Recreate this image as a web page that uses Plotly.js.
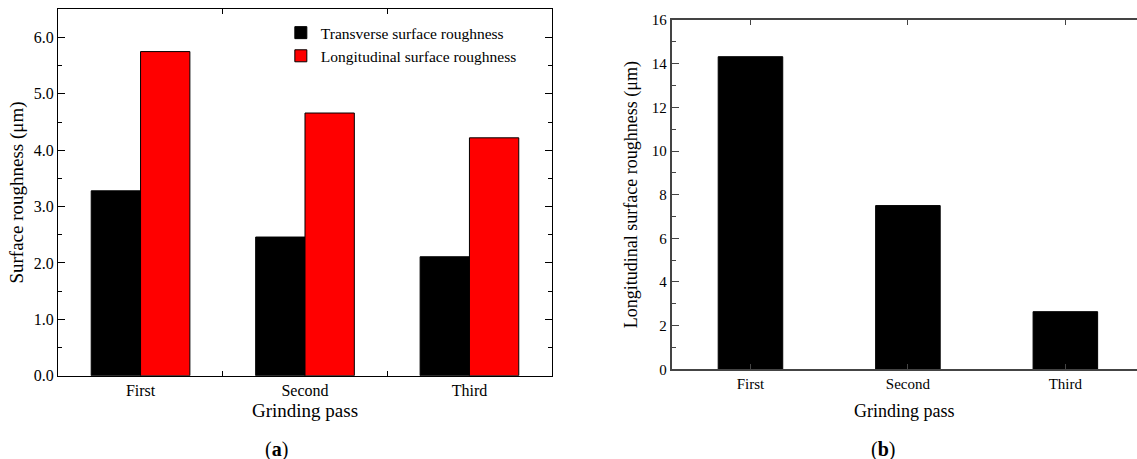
<!DOCTYPE html>
<html>
<head>
<meta charset="utf-8">
<script src="https://cdn.plot.ly/plotly-3.0.1.min.js"></script>
<style>html,body{margin:0;padding:0;background:#fff;}#chart{width:1137px;height:459px;}</style>
</head>
<body>
<div id="chart"></div>
<script>
// ---- data ----
const categories = ['First', 'Second', 'Third'];
const transverseA = [3.28, 2.46, 2.11];
const longitudinalA = [5.75, 4.66, 4.22];
const longitudinalB = [14.32, 7.50, 2.64];
const seriesNames = ['Transverse surface roughness', 'Longitudinal surface roughness'];

const FONT = '"Liberation Serif", serif';

const traces = [
  {type: 'bar', x: categories, y: transverseA, name: seriesNames[0], xaxis: 'x', yaxis: 'y',
   marker: {color: '#000000', line: {color: '#000000', width: 1}}},
  {type: 'bar', x: categories, y: longitudinalA, name: seriesNames[1], xaxis: 'x', yaxis: 'y',
   marker: {color: '#ff0000', line: {color: '#000000', width: 1}}},
  {type: 'bar', x: categories, y: longitudinalB, name: 'Longitudinal', xaxis: 'x2', yaxis: 'y2',
   width: 0.41, showlegend: false, marker: {color: '#000000', line: {color: '#000000', width: 1}}}
];

const layout = {
  width: 1137, height: 459,
  margin: {l: 0, r: 0, t: 0, b: 0},
  paper_bgcolor: '#ffffff', plot_bgcolor: '#ffffff',
  font: {family: FONT, color: '#000000', size: 15},
  barmode: 'group', bargap: 0.4, bargroupgap: 0,
  showlegend: true,
  legend: {x: 0.247, y: 0.965, xanchor: 'left', yanchor: 'top', bgcolor: 'rgba(0,0,0,0)',
           font: {family: FONT, size: 15.5}, itemwidth: 30, tracegroupgap: 0},
  xaxis: {
    domain: [0.0513, 0.4852], anchor: 'y', type: 'category', range: [-0.5, 2.5],
    showline: true, linecolor: '#000', linewidth: 1.5, mirror: 'ticks',
    ticks: 'inside', tickson: 'boundaries', ticklen: 5, tickcolor: '#000',
    showgrid: false, zeroline: false, tickfont: {family: FONT, size: 16},
    title: {text: 'Grinding pass', font: {family: FONT, size: 19}, standoff: 5}
  },
  yaxis: {
    domain: [0.1815, 0.9797], anchor: 'x', range: [0, 6.5], dtick: 1, tick0: 0, tickformat: '.1f',
    showline: true, linecolor: '#000', linewidth: 1.5, mirror: 'ticks',
    ticks: 'inside', ticklen: 7, tickcolor: '#000',
    minor: {dtick: 0.5, ticks: 'inside', ticklen: 4, tickcolor: '#000', showgrid: false},
    showgrid: false, zeroline: false, tickfont: {family: FONT, size: 16},
    title: {text: 'Surface roughness (μm)', font: {family: FONT, size: 19}, standoff: 5}
  },
  xaxis2: {
    domain: [0.5908, 1], anchor: 'y2', type: 'category', range: [-0.5, 2.455],
    showline: true, linecolor: '#444', linewidth: 2, mirror: 'ticks',
    ticks: 'inside', ticklen: 5, tickcolor: '#444',
    showgrid: false, zeroline: false, tickfont: {family: FONT, size: 15},
    title: {text: 'Grinding pass', font: {family: FONT, size: 18}, standoff: 13}
  },
  yaxis2: {
    domain: [0.1954, 0.9564], anchor: 'x2', range: [0, 16], dtick: 2, tick0: 0,
    showline: true, linecolor: '#444', linewidth: 2, mirror: false,
    ticks: 'inside', ticklen: 7, tickcolor: '#444',
    minor: {dtick: 1, ticks: 'inside', ticklen: 4, tickcolor: '#444', showgrid: false},
    showgrid: false, zeroline: false, tickfont: {family: FONT, size: 15},
    title: {text: 'Longitudinal surface roughness (μm)', font: {family: FONT, size: 18}, standoff: 9}
  },
  annotations: [
    {text: '(<b>a</b>)', xref: 'paper', yref: 'paper', x: 0.2434, y: (459 - 449) / 459,
     xanchor: 'center', yanchor: 'middle', showarrow: false, font: {family: FONT, size: 20}},
    {text: '(<b>b</b>)', xref: 'paper', yref: 'paper', x: 0.777, y: (459 - 449) / 459,
     xanchor: 'center', yanchor: 'middle', showarrow: false, font: {family: FONT, size: 20}}
  ]
};

Plotly.newPlot('chart', traces, layout, {displayModeBar: false, staticPlot: true});
</script>
</body>
</html>
